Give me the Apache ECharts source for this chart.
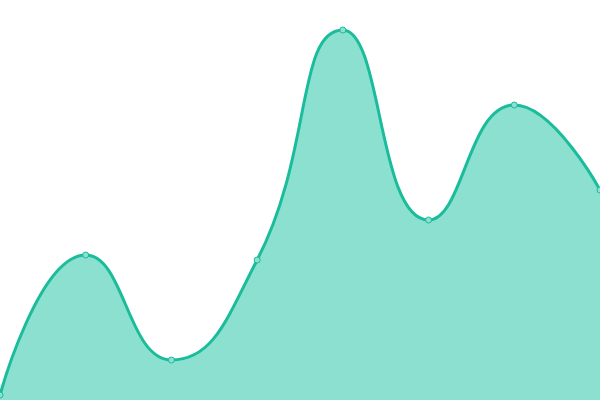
<!DOCTYPE html>
<html><head><meta charset="utf-8">
<style>html,body{margin:0;padding:0;background:#fff}#c{width:600px;height:400px}</style>
<script src="https://cdn.jsdelivr.net/npm/echarts@6/dist/echarts.min.js"></script>
</head><body><div id="c"></div>
<script>
const categories = ['A','B','C','D','E','F','G','H'];
const values = [5, 145, 40, 140, 370, 180, 295, 210];
const chart = echarts.init(document.getElementById('c'));
chart.setOption({
  animation: false,
  grid: {left: 0, right: 0, top: 0, bottom: 0},
  xAxis: {type: 'category', data: categories, boundaryGap: false, show: false},
  yAxis: {type: 'value', min: 0, max: 400, show: false},
  series: [{
    type: 'line', data: values, smooth: true,
    symbol: 'circle', symbolSize: 6,
    lineStyle: {color: '#1ABC9C', width: 3},
    itemStyle: {color: '#8BE0CF', borderColor: '#1ABC9C', borderWidth: 1},
    areaStyle: {color: '#8BE0CF', opacity: 1}
  }]
});
</script></body></html>
